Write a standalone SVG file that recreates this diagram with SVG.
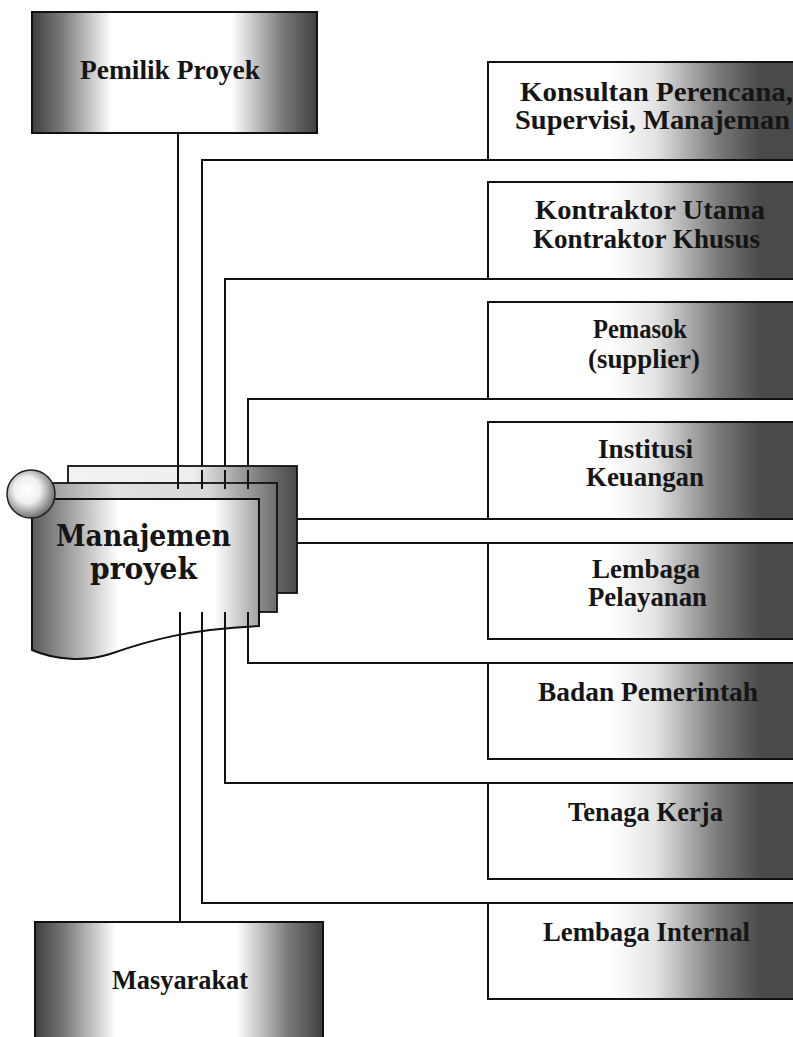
<svg xmlns="http://www.w3.org/2000/svg" width="793" height="1037" viewBox="0 0 793 1037">
<defs>
<linearGradient id="gSide" x1="0" y1="0" x2="1" y2="0">
<stop offset="0" stop-color="#3f3f3f"/>
<stop offset="0.1" stop-color="#777"/>
<stop offset="0.28" stop-color="#fff"/>
<stop offset="0.7" stop-color="#fff"/>
<stop offset="0.88" stop-color="#7a7a7a"/>
<stop offset="1" stop-color="#3f3f3f"/>
</linearGradient>
<linearGradient id="gRight" gradientUnits="userSpaceOnUse" x1="610" y1="0" x2="760" y2="0">
<stop offset="0" stop-color="#fff"/>
<stop offset="0.3" stop-color="#e4e4e4"/>
<stop offset="0.72" stop-color="#7a7a7a"/>
<stop offset="1" stop-color="#4a4a4a"/>
</linearGradient>
<linearGradient id="gFront" gradientUnits="userSpaceOnUse" x1="32" y1="0" x2="260" y2="0">
<stop offset="0" stop-color="#5a5a5a"/>
<stop offset="0.15" stop-color="#9a9a9a"/>
<stop offset="0.38" stop-color="#fff"/>
<stop offset="0.8" stop-color="#fff"/>
<stop offset="1" stop-color="#a0a0a0"/>
</linearGradient>
<linearGradient id="gMid" gradientUnits="userSpaceOnUse" x1="48" y1="0" x2="277" y2="0">
<stop offset="0" stop-color="#9a9a9a"/>
<stop offset="0.3" stop-color="#e0e0e0"/>
<stop offset="0.7" stop-color="#d8d8d8"/>
<stop offset="1" stop-color="#6e6e6e"/>
</linearGradient>
<linearGradient id="gBack" gradientUnits="userSpaceOnUse" x1="68" y1="0" x2="297" y2="0">
<stop offset="0" stop-color="#f2f2f2"/>
<stop offset="0.55" stop-color="#eeeeee"/>
<stop offset="0.85" stop-color="#777"/>
<stop offset="1" stop-color="#4a4a4a"/>
</linearGradient>
<radialGradient id="gBall" cx="0.42" cy="0.42" r="0.6">
<stop offset="0" stop-color="#fff"/>
<stop offset="0.45" stop-color="#f0f0f0"/>
<stop offset="1" stop-color="#6a6a6a"/>
</radialGradient>
</defs>
<style>
.box{stroke:#111;stroke-width:2}
.lbl{font-family:"Liberation Serif","Times New Roman",serif;font-weight:bold;font-size:28px;fill:#151515}
.ctr{font-family:"DejaVu Serif","Liberation Serif",serif;font-weight:bold;font-size:30px;fill:#151515}
.con{fill:none;stroke:#111;stroke-width:2}
</style>
<rect width="793" height="1037" fill="#fff"/>

<g id="connectors">
<path class="con" d="M178,133 V489"/>
<path class="con" d="M202,489 V160 H488"/>
<path class="con" d="M225,489 V279 H488"/>
<path class="con" d="M248,489 V399 H488"/>
<path class="con" d="M297,519 H488"/>
<path class="con" d="M297,543 H488"/>
<path class="con" d="M248,612 V663 H488"/>
<path class="con" d="M225,612 V783 H488"/>
<path class="con" d="M202,612 V903 H488"/>
<path class="con" d="M180,612 V922"/>
</g>

<g id="pemilik-proyek">
<rect class="box" x="32" y="12" width="285" height="121" fill="url(#gSide)"/>
<text class="lbl" x="80" y="79" textLength="180" lengthAdjust="spacingAndGlyphs">Pemilik Proyek</text>
</g>

<g id="manajemen-proyek">
<rect x="68" y="466" width="229" height="127" fill="url(#gBack)" stroke="#111" stroke-width="1.8"/>
<rect x="48" y="483" width="229" height="129" fill="url(#gMid)" stroke="#111" stroke-width="1.8"/>
<path d="M32,499 H259 V626 C190,629 150,640 110,654 C85,662 55,660 32,650 Z" fill="url(#gFront)" stroke="#111" stroke-width="2"/>
<circle cx="31" cy="494" r="24" fill="url(#gBall)" stroke="#222" stroke-width="1.5"/>
<text class="ctr" x="56" y="546" textLength="175" lengthAdjust="spacingAndGlyphs">Manajemen</text>
<text class="ctr" x="90" y="579" textLength="107" lengthAdjust="spacingAndGlyphs">proyek</text>
</g>

<g id="center-lines">
<path class="con" d="M178,466 V489 M202,470 V489 M225,470 V489 M248,470 V489"/>
<path class="con" d="M180,612 V640 M202,612 V640 M225,612 V640 M248,612 V640"/>
</g>

<g id="konsultan">
<rect class="box" x="488" y="62" width="320" height="98" fill="url(#gRight)"/>
<text class="lbl" x="520" y="101" textLength="273" lengthAdjust="spacingAndGlyphs">Konsultan Perencana,</text>
<text class="lbl" x="515" y="129" textLength="275" lengthAdjust="spacingAndGlyphs">Supervisi, Manajeman</text>
</g>

<g id="kontraktor">
<rect class="box" x="488" y="182" width="320" height="97" fill="url(#gRight)"/>
<text class="lbl" x="535" y="219" textLength="230" lengthAdjust="spacingAndGlyphs">Kontraktor Utama</text>
<text class="lbl" x="533" y="248" textLength="227" lengthAdjust="spacingAndGlyphs">Kontraktor Khusus</text>
</g>

<g id="pemasok">
<rect class="box" x="488" y="302" width="320" height="97" fill="url(#gRight)"/>
<text class="lbl" x="593" y="338" textLength="94" lengthAdjust="spacingAndGlyphs">Pemasok</text>
<text class="lbl" x="588" y="368" textLength="112" lengthAdjust="spacingAndGlyphs">(supplier)</text>
</g>

<g id="institusi-keuangan">
<rect class="box" x="488" y="422" width="320" height="97" fill="url(#gRight)"/>
<text class="lbl" x="598" y="458" textLength="95" lengthAdjust="spacingAndGlyphs">Institusi</text>
<text class="lbl" x="586" y="486" textLength="118" lengthAdjust="spacingAndGlyphs">Keuangan</text>
</g>

<g id="lembaga-pelayanan">
<rect class="box" x="488" y="543" width="320" height="96" fill="url(#gRight)"/>
<text class="lbl" x="592" y="578" textLength="108" lengthAdjust="spacingAndGlyphs">Lembaga</text>
<text class="lbl" x="588" y="606" textLength="119" lengthAdjust="spacingAndGlyphs">Pelayanan</text>
</g>

<g id="badan-pemerintah">
<rect class="box" x="488" y="663" width="320" height="96" fill="url(#gRight)"/>
<text class="lbl" x="538" y="701" textLength="220" lengthAdjust="spacingAndGlyphs">Badan Pemerintah</text>
</g>

<g id="tenaga-kerja">
<rect class="box" x="488" y="783" width="320" height="96" fill="url(#gRight)"/>
<text class="lbl" x="568" y="821" textLength="155" lengthAdjust="spacingAndGlyphs">Tenaga Kerja</text>
</g>

<g id="lembaga-internal">
<rect class="box" x="488" y="903" width="320" height="96" fill="url(#gRight)"/>
<text class="lbl" x="543" y="941" textLength="207" lengthAdjust="spacingAndGlyphs">Lembaga Internal</text>
</g>

<g id="masyarakat">
<rect class="box" x="35" y="922" width="288" height="130" fill="url(#gSide)"/>
<text class="lbl" x="112" y="989" textLength="136" lengthAdjust="spacingAndGlyphs">Masyarakat</text>
</g>
</svg>
